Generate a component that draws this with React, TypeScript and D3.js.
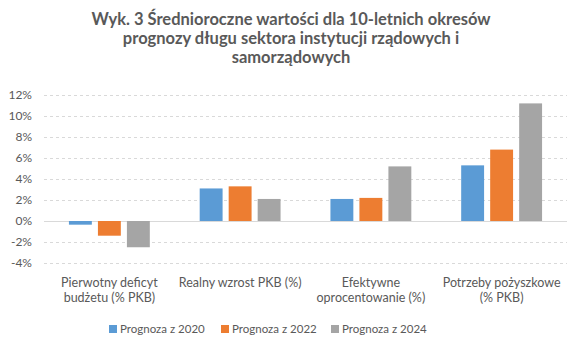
import React, { useRef, useEffect } from 'react';
import * as d3 from 'd3';

const categories = [
  ['Pierwotny deficyt', 'budżetu (% PKB)'],
  ['Realny wzrost PKB (%)'],
  ['Efektywne', 'oprocentowanie (%)'],
  ['Potrzeby pożyszkowe', '(% PKB)'],
];
const seriesNames = ['Prognoza z 2020', 'Prognoza z 2022', 'Prognoza z 2024'];
const prognoza2020 = [-0.35, 3.1, 2.1, 5.3];
const prognoza2022 = [-1.4, 3.3, 2.2, 6.8];
const prognoza2024 = [-2.5, 2.1, 5.2, 11.2];
const yTicks = [-4, -2, 0, 2, 4, 6, 8, 10, 12];
const colors = ['#5B9BD5', '#ED7D31', '#A5A5A5'];
const titleLines = [
  'Wyk. 3 Średnioroczne wartości dla 10-letnich okresów',
  'prognozy długu sektora instytucji rządowych i',
  'samorządowych',
];

const W = 580;
const H = 350;

function App() {
  const svgRef = useRef<SVGSVGElement>(null);

  useEffect(() => {
    const svg = d3.select(svgRef.current);
    svg.selectAll('*').remove();

    const margin = { top: 95, right: 13, bottom: 87, left: 44 };
    const innerW = W - margin.left - margin.right;
    const innerH = H - margin.top - margin.bottom;
    const font = 'Lato, "Liberation Sans", sans-serif';
    const textColor = '#595959';

    const series = [prognoza2020, prognoza2022, prognoza2024];

    svg.append('rect').attr('width', W).attr('height', H).attr('fill', '#fff');

    // title
    svg.append('g')
      .selectAll('text')
      .data(titleLines)
      .join('text')
        .attr('x', W / 2 + 1)
        .attr('y', (d, i) => 25 + i * 19)
        .attr('text-anchor', 'middle')
        .style('font', `bold 16.5px ${font}`)
        .attr('fill', textColor)
        .text(d => d);

    const g = svg.append('g').attr('transform', `translate(${margin.left},${margin.top})`);

    const y = d3.scaleLinear().domain([-4, 12]).range([innerH, 0]);
    const x0 = d3.scaleBand<number>()
      .domain(d3.range(categories.length))
      .range([0, innerW]);
    const x1 = d3.scaleBand<number>()
      .domain(d3.range(series.length))
      .range([0, x0.bandwidth()])
      .paddingInner(0.21)
      .paddingOuter(0.86);

    // gridlines
    g.append('g')
      .selectAll('line')
      .data(yTicks)
      .join('line')
        .attr('x1', 0)
        .attr('x2', innerW)
        .attr('y1', d => Math.round(y(d)) + 0.5)
        .attr('y2', d => Math.round(y(d)) + 0.5)
        .attr('stroke', '#D9D9D9')
        .attr('stroke-width', 1)
        .attr('stroke-dasharray', d => d === 0 ? null : '3,3');

    // y tick labels
    g.append('g')
      .selectAll('text')
      .data(yTicks)
      .join('text')
        .attr('x', -12)
        .attr('y', d => y(d))
        .attr('dy', '0.35em')
        .attr('text-anchor', 'end')
        .style('font', `12px ${font}`)
        .attr('fill', textColor)
        .text(d => `${d}%`);

    // bars
    const groups = g.append('g')
      .selectAll('g')
      .data(categories.map((c, i) => i))
      .join('g')
        .attr('transform', i => `translate(${x0(i)},0)`);

    groups.selectAll('rect')
      .data(i => series.map((s, k) => ({ k, v: s[i] })))
      .join('rect')
        .attr('x', d => x1(d.k)!)
        .attr('width', x1.bandwidth())
        .attr('y', d => y(Math.max(0, d.v)))
        .attr('height', d => Math.abs(y(d.v) - y(0)))
        .attr('fill', d => colors[d.k]);

    // category labels
    groups.selectAll('text')
      .data(i => categories[i])
      .join('text')
        .attr('x', x0.bandwidth() / 2)
        .attr('y', (d, j) => innerH + 24 + j * 15)
        .attr('text-anchor', 'middle')
        .style('font', `12.5px ${font}`)
        .attr('fill', textColor)
        .text(d => d);

    // legend
    const legendX = [109, 221, 331];
    const legend = svg.append('g')
      .selectAll('g')
      .data(seriesNames)
      .join('g')
        .attr('transform', (d, i) => `translate(${legendX[i]},${329})`);
    legend.append('rect')
      .attr('x', 0)
      .attr('y', -4)
      .attr('width', 8)
      .attr('height', 8)
      .attr('fill', (d, i) => colors[i]);
    legend.append('text')
      .attr('x', 11)
      .attr('y', 0)
      .attr('dy', '0.35em')
      .style('font', `11.5px ${font}`)
      .attr('fill', textColor)
      .text(d => d);
  }, []);

  return (
    <div style={{ position: 'absolute', left: 0, top: 0 }}>
      <svg ref={svgRef} width={W} height={H} style={{ display: 'block' }} />
    </div>
  );
}

export default App;
